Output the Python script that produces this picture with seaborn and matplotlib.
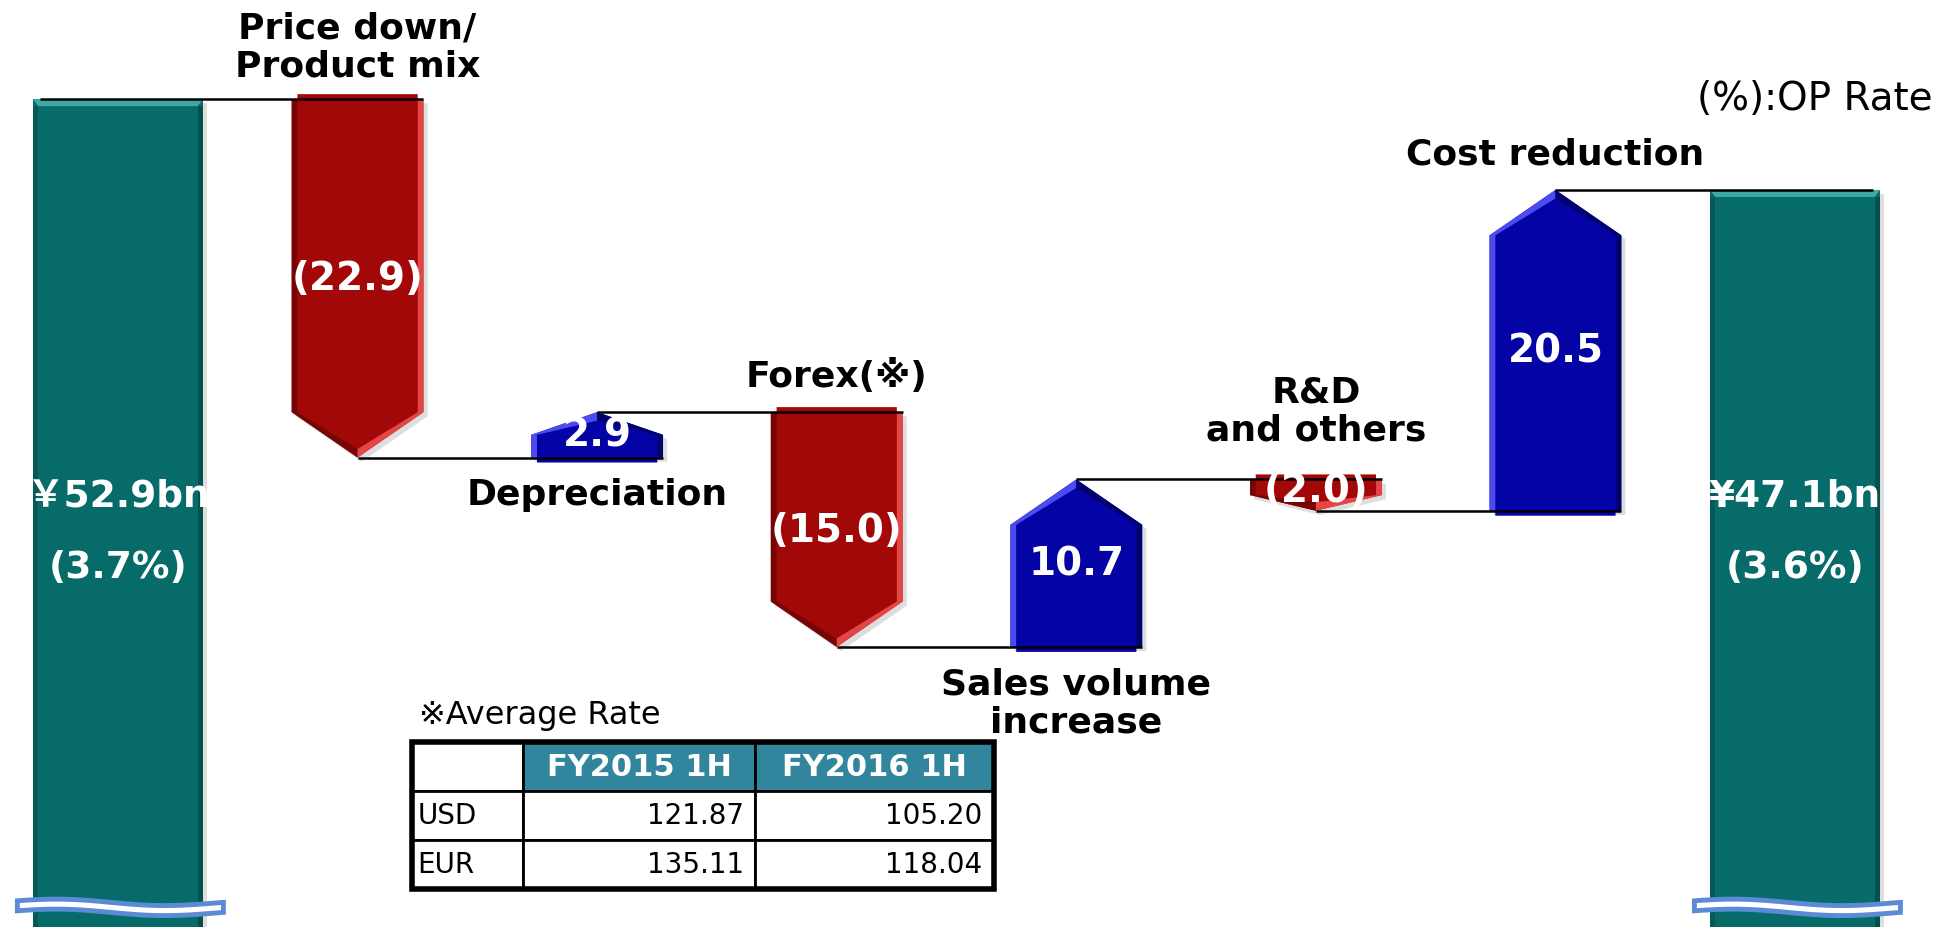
import numpy as np
import pandas as pd
import matplotlib
matplotlib.use("Agg")
import matplotlib.pyplot as plt
import seaborn as sns
from matplotlib.patches import Polygon, Rectangle
from matplotlib.table import Table
import matplotlib.patheffects as pe

# ---------------- data ----------------
categories = ["FY2015 1H", "Price down/\nProduct mix", "Depreciation", "Forex(※)",
              "Sales volume\nincrease", "R&D\nand others", "Cost reduction", "FY2016 1H"]
start_total = 52.9
end_total = 47.1
deltas = [-22.9, 2.9, -15.0, 10.7, -2.0, 20.5]
op_rates = [3.7, 3.6]
total_texts = ["￥52.9bn", "¥47.1bn"]

rate_currencies = ["USD", "EUR"]
rate_periods = ["FY2015 1H", "FY2016 1H"]
rate_fy2015 = [121.87, 135.11]
rate_fy2016 = [105.20, 118.04]

# ---------------- style ----------------
label_side = ["above", "below", "above", "below", "above", "above"]
label_pad = [12, 14, 14, 14, 24, 14]
value_nudge = [0, 0, 0, 0, 0.3, 0]

TEAL, TEAL_LIGHT, TEAL_DARK = "#076B69", "#3FA8A3", "#04504E"
RED, RED_LIGHT, RED_DARK = "#A20808", "#E44646", "#780505"
BLUE, BLUE_LIGHT, BLUE_DARK = "#0404A6", "#4B4BF0", "#02026E"
HEADER = "#31859C"
BREAK_EDGE = "#5B8BD5"

sns.set_style("white")
plt.rcParams["font.family"] = ["DejaVu Sans", "Noto Sans CJK JP"]
plt.rcParams["text.color"] = "black"

fig = plt.figure(figsize=(19.42, 9.28), dpi=100)
ax = fig.add_axes([0, 0, 1, 1])

levels = [start_total]
for d in deltas:
    levels.append(round(levels[-1] + d, 1))

totals = [start_total] + [np.nan] * len(deltas) + [end_total]
df = pd.DataFrame({"item": categories, "value": totals})
TW = 0.71
sns.barplot(data=df, x="item", y="value", order=categories, color=TEAL,
            saturation=1, width=TW, errorbar=None, edgecolor="none", ax=ax, zorder=2)

shadow = [pe.SimplePatchShadow(offset=(3, -3), shadow_rgbFace="#8a8a8a", alpha=0.28), pe.Normal()]

# bevel on teal bars
for p in list(ax.patches):
    h = p.get_height()
    if not np.isfinite(h) or h <= 0:
        continue
    p.set_path_effects(shadow)
    x0, w = p.get_x(), p.get_width()
    dx, dy = 0.022, 0.45
    ax.add_patch(Polygon([(x0, h), (x0 + w, h), (x0 + w - dx, h - dy), (x0 + dx, h - dy)],
                         closed=True, facecolor=TEAL_LIGHT, edgecolor="none", zorder=3))
    ax.add_patch(Rectangle((x0, -1), dx, h - dy + 1, facecolor=TEAL_DARK, edgecolor="none",
                           alpha=0.6, zorder=3))
    ax.add_patch(Rectangle((x0 + w - dx, -1), dx, h - dy + 1, facecolor=TEAL_DARK,
                           edgecolor="none", zorder=3))

# arrows for the deltas
AW = 0.55
hw = AW / 2
for i, d in enumerate(deltas):
    k = i + 1
    s, e = levels[i], levels[i + 1]
    sgn = 1 if e > s else -1
    h = min(2.9, 0.5 * abs(d))
    neck = e - sgn * h
    base, light, dark = (BLUE, BLUE_LIGHT, BLUE_DARK) if d > 0 else (RED, RED_LIGHT, RED_DARK)
    left_c, right_c = (light, dark) if d > 0 else (dark, light)
    outer = [(k - hw, s), (k + hw, s), (k + hw, neck), (k, e), (k - hw, neck)]
    ax.add_patch(Polygon(outer, closed=True, facecolor=base, edgecolor="none", zorder=2,
                         path_effects=shadow))
    ax.add_patch(Polygon([(k - hw, s), (k, s), (k, e), (k - hw, neck)], closed=True,
                         facecolor=left_c, edgecolor="none", zorder=3))
    ax.add_patch(Polygon([(k, s), (k + hw, s), (k + hw, neck), (k, e)], closed=True,
                         facecolor=right_c, edgecolor="none", zorder=3))
    dx, dy = 0.024, 0.32
    inner = [(k - hw + dx, s - sgn * dy), (k + hw - dx, s - sgn * dy),
             (k + hw - dx, neck), (k, e - sgn * dy * 1.7), (k - hw + dx, neck)]
    ax.add_patch(Polygon(inner, closed=True, facecolor=base, edgecolor="none", zorder=4))

    # value label
    txt = f"{d:.1f}" if d > 0 else f"({abs(d):.1f})"
    ax.text(k, (s + e) / 2 + value_nudge[i], txt, ha="center", va="center", color="white",
            fontsize=28, fontweight="bold", zorder=8)
    # category label
    if label_side[i] == "above":
        ax.annotate(categories[k], xy=(k, max(s, e)), xytext=(0, label_pad[i]),
                    textcoords="offset points", ha="center", va="bottom", fontsize=26,
                    fontweight="bold", linespacing=1.15, zorder=8)
    else:
        ax.annotate(categories[k], xy=(k, min(s, e)), xytext=(0, -label_pad[i]),
                    textcoords="offset points", ha="center", va="top", fontsize=26,
                    fontweight="bold", linespacing=1.15, zorder=8)

# connector lines
n = len(categories)
for i in range(n - 1):
    lvl = levels[i]
    x_start = (0 - TW / 2 + 0.03) if i == 0 else i
    half_next = TW / 2 - 0.03 if i + 1 == n - 1 else hw
    ax.plot([x_start, i + 1 + half_next], [lvl, lvl], color="black", lw=1.8, zorder=6,
            solid_capstyle="butt")

# totals text
for idx, k in enumerate([0, n - 1]):
    ax.text(k, 27.6, total_texts[idx], ha="center", va="center", color="white",
            fontsize=27, fontweight="bold", zorder=8)
    ax.text(k, 23.0, f"({op_rates[idx]:.1f}%)", ha="center", va="center", color="white",
            fontsize=27, fontweight="bold", zorder=8)

# break marks on the total bars
t = np.linspace(0, 1, 60)
for k in [0, n - 1]:
    xs = k - 0.42 + 0.86 * t
    yc = 1.3 + 0.18 * np.sin(2 * np.pi * t + 0.3) - 0.1 * t
    top = yc + 0.32
    bot = yc - 0.32
    poly = np.column_stack([np.concatenate([xs, xs[::-1]]), np.concatenate([top, bot[::-1]])])
    ax.add_patch(Polygon(poly, closed=True, facecolor="white", edgecolor=BREAK_EDGE,
                         lw=3.5, zorder=7))

ax.set_xlim(-0.4925, n - 1 + 0.6135)
ax.set_ylim(0, 59.3)
ax.set_axis_off()

# OP rate note
ax.text(0.995, 1 - 99 / 928, "(%):OP Rate", transform=ax.transAxes, ha="right", va="center",
        fontsize=28, color="black")

# average rate table
ax.text(419 / 1942, 1 - 716 / 928, "※Average Rate", transform=ax.transAxes, ha="left",
        va="center", fontsize=23, color="black")
bx, by, bw, bh = 412 / 1942, 1 - 890 / 928, 582 / 1942, 147 / 928
tbl = Table(ax, bbox=[bx, by, bw, bh])
col_w = [0.19, 0.40, 0.41]
rows = [[""] + rate_periods]
for cur, a, b in zip(rate_currencies, rate_fy2015, rate_fy2016):
    rows.append([cur, f"{a:.2f}", f"{b:.2f}"])
for r, row in enumerate(rows):
    for c, txt in enumerate(row):
        loc = "center" if r == 0 else ("left" if c == 0 else "right")
        fc = HEADER if (r == 0 and c > 0) else "white"
        cell = tbl.add_cell(r, c, col_w[c], 1 / len(rows), text=txt, loc=loc, facecolor=fc)
        cell.PAD = 0.05
        cell.set_edgecolor("black")
        cell.set_linewidth(2)
        tp = cell.get_text()
        tp.set_fontsize(20)
        tp.set_color("black")
        if r == 0:
            tp.set_color("white")
            tp.set_fontweight("bold")
            tp.set_fontsize(22)
tbl.auto_set_font_size(False)
tbl.set_zorder(5)
ax.add_table(tbl)
ax.add_patch(Rectangle((bx, by), bw, bh, transform=ax.transAxes, fill=False,
                       edgecolor="black", lw=4, zorder=9))

fig.savefig("out.png", dpi=100, facecolor="white")
